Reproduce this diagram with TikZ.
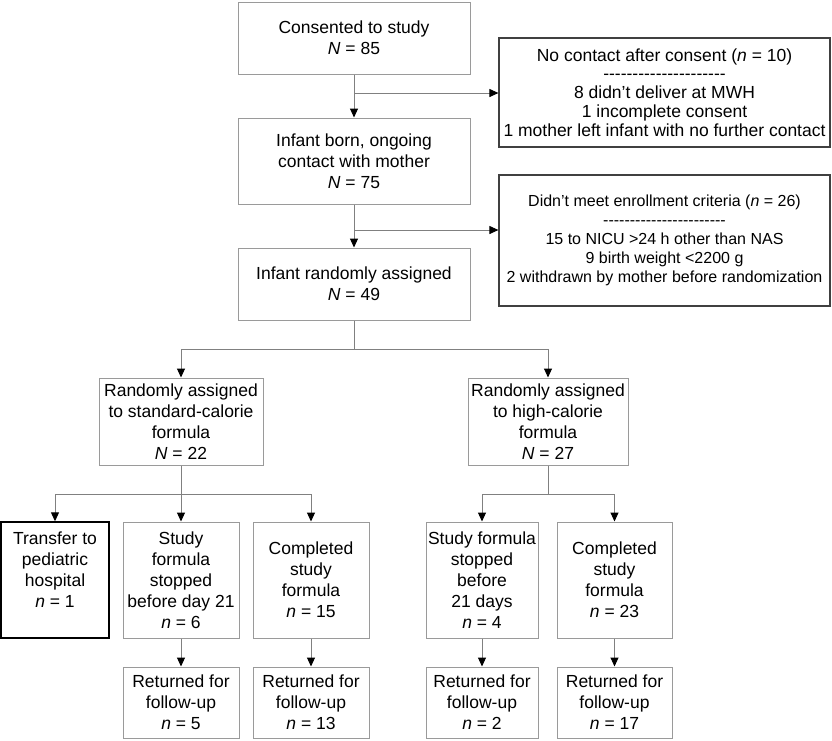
\documentclass[tikz,border=0pt]{standalone}
\usepackage{fontspec}
\setmainfont{Liberation Sans}
\usetikzlibrary{arrows.meta}
\definecolor{boxgray}{HTML}{9A9A9A}
\definecolor{linegray}{HTML}{808080}
\definecolor{sidegray}{HTML}{404040}
\newcommand{\hyrow}[1]{\foreach \k in {1,...,#1}{-\kern0pt}}

\begin{document}
\begin{tikzpicture}[x=1pt,y=-1pt,font=\fontsize{17.5}{21}\selectfont,
  every node/.style={align=center,inner sep=0pt},
  box/.style={draw=boxgray,line width=1pt},
  sidebox/.style={draw=sidegray,line width=1.2pt,font=\fontsize{17.5}{18.8}\selectfont},
  thickbox/.style={draw=black,line width=1.4pt},
  link/.style={draw=linegray,line width=1pt},
  arr/.style={link,-{Triangle[width=8pt,length=9pt,color=black]}}]
  \useasboundingbox (0,0) rectangle (832,740);
  \node (1) at (354,38)[box,minimum width=232pt,minimum height=72pt]{Consented to study\\\textit{N} = 85};
  \node (2) at (354,161)[box,minimum width=232pt,minimum height=86pt]{Infant born, ongoing\\contact with mother\\\textit{N} = 75};
  \node (3) at (354,284)[box,minimum width=232pt,minimum height=72pt]{Infant randomly assigned\\\textit{N} = 49};
  \node (6) at (664.5,92.5)[sidebox,minimum width=331pt,minimum height=109pt]{No contact after consent (\textit{n} = 10)\\\hyrow{21}\\8 didn’t deliver at MWH\\1 incomplete consent\\1 mother left infant with no further contact};
  \node (7) at (664.5,240.5)[sidebox,font=\fontsize{16}{19}\selectfont,minimum width=331pt,minimum height=131pt]{Didn’t meet enrollment criteria (\textit{n} = 26)\\\hyrow{23}\\15 to NICU >24 h other than NAS\hspace*{28pt}\\9 birth weight <2200 g\\2 withdrawn by mother before randomization};
  \node (4) at (181,421.5)[box,minimum width=164pt,minimum height=87pt]{Randomly assigned\\to standard-calorie\\formula\\\textit{N} = 22};
  \node (5) at (548,421.5)[box,minimum width=160pt,minimum height=87pt]{Randomly assigned\\to high-calorie\\formula\\\textit{N} = 27};
  \node (8) at (55,580)[thickbox,minimum width=108pt,minimum height=116pt]{Transfer to\\pediatric\\hospital\\\textit{n} = 1\\~};
  \node (9) at (181,580)[box,minimum width=116pt,minimum height=116pt]{Study\\formula\\stopped\\before day 21\\\textit{n} = 6};
  \node (10) at (311,580)[box,minimum width=116pt,minimum height=116pt]{Completed\\study\\formula\\\textit{n} = 15};
  \node (11) at (482,580)[box,minimum width=112pt,minimum height=116pt]{Study formula\\stopped\\before\\21 days\\\textit{n} = 4};
  \node (12) at (614.5,580)[box,minimum width=115pt,minimum height=116pt]{Completed\\study\\formula\\\textit{n} = 23};
  \node (13) at (181,702.5)[box,minimum width=116pt,minimum height=71pt]{Returned for\\follow-up\\\textit{n} = 5};
  \node (14) at (311,702.5)[box,minimum width=116pt,minimum height=71pt]{Returned for\\follow-up\\\textit{n} = 13};
  \node (15) at (482,702.5)[box,minimum width=112pt,minimum height=71pt]{Returned for\\follow-up\\\textit{n} = 2};
  \node (16) at (614.5,702.5)[box,minimum width=115pt,minimum height=71pt]{Returned for\\follow-up\\\textit{n} = 17};
  \coordinate (a) at (354,93);
  \coordinate (b) at (354,230);
  \coordinate (c) at (354,349);
  \coordinate (d) at (181,494);
  \coordinate (e) at (548,494);
  \draw[arr](1)--(2);
  \draw[arr](a)--(a-|6.west);
  \draw[arr](2)--(3);
  \draw[arr](b)--(b-|7.west);
  \draw[link](3)--(c);
  \draw[arr](c)-|(4);
  \draw[arr](c)-|(5);
  \draw[link](4)--(d);
  \draw[arr](d)-|(8);
  \draw[arr](d)--(9);
  \draw[arr](d)-|(10);
  \draw[link](5)--(e);
  \draw[arr](e)-|(11);
  \draw[arr](e)-|(12);
  \draw[arr](9)--(13);
  \draw[arr](10)--(14);
  \draw[arr](11)--(15);
  \draw[arr](12)--(16);
\end{tikzpicture}
\end{document}
